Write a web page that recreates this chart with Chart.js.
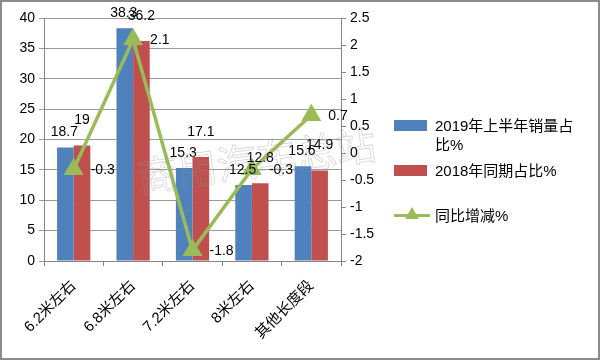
<!DOCTYPE html>
<html>
<head>
<meta charset="utf-8">
<script src="https://cdn.jsdelivr.net/npm/chart.js@4"></script>
<style>
  body { margin: 0; background: #fff; }
  #wrap { position: relative; width: 600px; height: 360px; }
  #legend { position: absolute; left: 394px; top: 116px; width: 200px;
    font-family: "Liberation Sans", "Noto Sans CJK SC", sans-serif; font-size: 15px; color: #000; }
  .item { position: relative; padding-left: 41px; line-height: 19px; margin-bottom: 7px; }
  .box { position: absolute; left: 0; top: 4px; width: 33px; height: 11px; }
  .ln { position: absolute; left: 0; top: 8px; width: 36px; height: 3px; background: #9BBB59; }
  .tri { position: absolute; left: 11px; top: 1px; width: 0; height: 0;
    border-left: 7px solid transparent; border-right: 7px solid transparent; border-bottom: 12px solid #9BBB59; }
</style>
</head>
<body>
<div id="wrap">
  <canvas id="c" width="600" height="360"></canvas>
  <div id="legend">
    <div class="item" style="width:150px"><span class="box" style="background:#4F81BD"></span>2019年上半年销量占比%</div>
    <div class="item"><span class="box" style="background:#C0504D"></span>2018年同期占比%</div>
    <div class="item" style="margin-top:26px"><span class="ln"></span><span class="tri"></span>同比增减%</div>
  </div>
</div>
<script>
var categories = ['6.2米左右', '6.8米左右', '7.2米左右', '8米左右', '其他长度段'];
var share2019 = [18.7, 38.3, 15.3, 12.5, 15.6];
var share2018 = [19, 36.2, 17.1, 12.8, 14.9];
var yoyChange = [-0.3, 2.1, -1.8, -0.3, 0.7];

var FONT = '"Liberation Sans", "Noto Sans CJK SC", sans-serif';

// white background, frame and faint watermark
var background = {
    id: 'background',
    beforeDraw: function (chart) {
        var ctx = chart.ctx;
        ctx.save();
        ctx.fillStyle = '#fff';
        ctx.fillRect(0, 0, chart.width, chart.height);
        ctx.restore();
    },
    afterDraw: function (chart) {
        var ctx = chart.ctx;
        ctx.save();
        ctx.strokeStyle = '#8c8c8c';
        ctx.lineWidth = 2;
        ctx.strokeRect(1, 1, chart.width - 2, chart.height - 2);
        ctx.translate(140, 192);
        ctx.rotate(-8 * Math.PI / 180);
        ctx.font = '40px "Noto Sans CJK SC"';
        ctx.strokeStyle = 'rgba(150,150,150,0.4)';
        ctx.lineWidth = 0.8;
        ctx.strokeText('商用汽车总站', 0, 0);
        ctx.restore();
    }
};

// value labels
var valueLabels = {
    id: 'valueLabels',
    afterDatasetsDraw: function (chart) {
        var ctx = chart.ctx;
        ctx.save();
        ctx.font = '14px ' + FONT;
        ctx.fillStyle = '#000';
        chart.data.datasets.forEach(function (ds, i) {
            var meta = chart.getDatasetMeta(i);
            meta.data.forEach(function (el, j) {
                var v = ds.data[j];
                ctx.textBaseline = 'middle';
                if (ds.type === 'line') {
                    ctx.textAlign = 'left';
                    ctx.fillText(v, el.x + 17, el.y + 1);
                } else if (i === 1) {
                    ctx.textAlign = 'center';
                    ctx.fillText(v, el.x - 1, el.y - 15);
                } else {
                    ctx.textAlign = 'center';
                    ctx.fillText(v, el.x, el.y - 25);
                }
            });
        });
        ctx.restore();
    }
};

var ctx = document.getElementById('c').getContext('2d');
var chart = new Chart(ctx, {
    data: {
        labels: categories,
        datasets: [{
            type: 'line',
            label: '同比增减%',
            data: yoyChange,
            yAxisID: 'y2',
            borderColor: '#9BBB59',
            backgroundColor: '#9BBB59',
            borderWidth: 3.5,
            tension: 0,
            pointStyle: 'triangle',
            pointRadius: 8,
            pointHoverRadius: 8,
            order: 0
        }, {
            type: 'bar',
            label: '2019年上半年销量占比%',
            data: share2019,
            yAxisID: 'y',
            backgroundColor: '#4F81BD',
            categoryPercentage: 0.56,
            barPercentage: 1.0,
            order: 1
        }, {
            type: 'bar',
            label: '2018年同期占比%',
            data: share2018,
            yAxisID: 'y',
            backgroundColor: '#C0504D',
            categoryPercentage: 0.56,
            barPercentage: 1.0,
            order: 1
        }]
    },
    options: {
        responsive: false,
        animation: false,
        layout: { padding: { left: 7, right: 214, top: 18, bottom: 0 } },
        plugins: {
            legend: { display: false },
            tooltip: { enabled: false }
        },
        scales: {
            x: {
                grid: { display: true, drawOnChartArea: false, offset: true, color: '#868686', tickLength: 5 },
                border: { color: '#868686', width: 1 },
                ticks: { color: '#000', font: { size: 15, family: FONT }, minRotation: 45, maxRotation: 45, padding: 11 },
                afterFit: function (s) { s.height = 99; }
            },
            y: {
                position: 'left',
                min: 0, max: 40,
                ticks: { stepSize: 5, color: '#000', font: { size: 14, family: FONT }, padding: 4 },
                grid: { color: '#9a9a9a', tickLength: 5 },
                border: { color: '#868686', width: 1 },
                afterFit: function (s) { s.width = 37; }
            },
            y2: {
                position: 'right',
                min: -2, max: 2.5,
                ticks: {
                    stepSize: 0.5, color: '#000', font: { size: 14, family: FONT }, padding: 4,
                    callback: function (v) { return String(Math.round(v * 10) / 10); }
                },
                grid: { drawOnChartArea: false, color: '#868686', tickLength: 5 },
                border: { color: '#868686', width: 1 },
                afterFit: function (s) { s.width = 45; }
            }
        }
    },
    plugins: [background, valueLabels]
});
</script>
</body>
</html>
